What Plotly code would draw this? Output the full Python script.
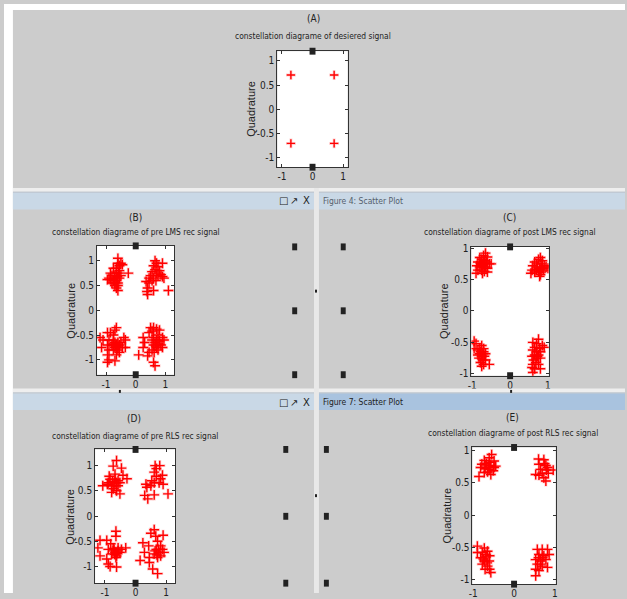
import plotly.graph_objects as go

W, H = 627, 599

# ---------------- data ----------------
a_x = [-0.707, 0.707, -0.707, 0.707]
a_y = [0.707, 0.707, -0.707, -0.707]

b_pts = [
    # top-left
    (-0.6, 1.05), (-0.6, 0.95), (-0.75, 0.85), (-0.65, 0.85), (-0.55, 0.9), (-0.5, 0.95), (-0.45, 0.92),
    (-0.55, 0.8), (-0.65, 0.75), (-0.7, 0.7), (-0.8, 0.7), (-0.9, 0.65), (-0.95, 0.62), (-0.85, 0.62),
    (-0.75, 0.6), (-0.65, 0.6), (-0.6, 0.55), (-0.7, 0.55), (-0.8, 0.55), (-0.7, 0.5), (-0.6, 0.5),
    (-0.65, 0.45), (-0.6, 0.4), (-0.55, 0.65), (-0.5, 0.7), (-0.25, 0.75), (-0.85, 0.75), (-0.72, 0.65),
    (-0.62, 0.68), (-0.58, 0.75),
    # top-right
    (0.65, 1.0), (0.7, 0.95), (0.6, 0.9), (0.75, 0.88), (0.9, 0.95), (0.65, 0.82), (0.55, 0.78),
    (0.8, 0.8), (0.7, 0.75), (0.85, 0.72), (0.9, 0.68), (0.95, 0.65), (0.5, 0.7), (0.45, 0.65),
    (0.6, 0.65), (0.55, 0.6), (0.35, 0.58), (0.45, 0.55), (0.4, 0.45), (0.38, 0.38), (0.4, 0.32),
    (0.6, 0.4), (1.1, 0.4), (0.75, 0.7), (0.68, 0.6),
    # bottom-left
    (-0.65, -0.35), (-0.7, -0.4), (-0.95, -0.45), (-0.85, -0.45), (-0.75, -0.5), (-1.2, -0.55),
    (-1.1, -0.6), (-0.9, -0.6), (-0.75, -0.6), (-0.7, -0.65), (-0.6, -0.65), (-0.5, -0.65),
    (-0.4, -0.55), (-0.35, -0.6), (-0.95, -0.7), (-0.8, -0.7), (-0.65, -0.7), (-0.55, -0.7),
    (-0.45, -0.75), (-1.15, -0.75), (-0.35, -0.75), (-0.75, -0.8), (-0.6, -0.8), (-0.7, -0.75),
    (-0.9, -0.8), (-0.55, -0.85), (-0.65, -0.9), (-0.95, -0.9), (-0.9, -1.0), (-0.95, -1.05),
    (-0.7, -1.02), (-0.68, -0.72), (-0.6, -0.75), (-0.75, -0.68),
    # bottom-right
    (0.5, -0.35), (0.6, -0.35), (0.7, -0.38), (0.55, -0.42), (0.8, -0.4), (0.45, -0.45), (0.75, -0.5),
    (0.25, -0.55), (0.6, -0.55), (0.9, -0.55), (0.55, -0.6), (0.7, -0.6), (0.8, -0.62), (0.95, -0.6),
    (0.3, -0.65), (0.65, -0.65), (0.75, -0.68), (0.85, -0.7), (0.6, -0.7), (0.7, -0.75), (0.9, -0.75),
    (0.25, -0.75), (0.55, -0.8), (0.75, -0.8), (0.45, -0.85), (0.62, -0.85), (0.1, -0.9), (0.4, -0.92),
    (0.6, -1.05), (0.65, -1.12), (0.68, -0.72),
]

c_pts = [
    (-0.65, 0.92), (-0.7, 0.88), (-0.6, 0.86), (-0.8, 0.85), (-0.75, 0.82), (-0.68, 0.8), (-0.85, 0.78),
    (-0.78, 0.76), (-0.7, 0.76), (-0.62, 0.78), (-0.55, 0.75), (-0.5, 0.75), (-0.88, 0.72), (-0.8, 0.7),
    (-0.72, 0.72), (-0.65, 0.7), (-0.6, 0.68), (-0.85, 0.65), (-0.75, 0.65), (-0.68, 0.63), (-0.9, 0.6),
    (-0.6, 0.62), (-0.73, 0.6), (-0.77, 0.74), (-0.66, 0.76),
    (0.8, 0.85), (0.75, 0.82), (0.65, 0.78), (0.85, 0.8), (0.7, 0.75), (0.82, 0.75), (0.9, 0.72),
    (0.95, 0.7), (0.6, 0.72), (0.72, 0.7), (0.78, 0.68), (0.85, 0.68), (1.0, 0.68), (0.58, 0.65),
    (0.75, 0.63), (0.82, 0.62), (0.65, 0.62), (0.55, 0.6), (0.8, 0.58), (0.78, 0.55), (0.7, 0.66),
    (0.88, 0.65),
    (-0.95, -0.48), (-0.9, -0.52), (-0.75, -0.55), (-0.95, -0.6), (-0.8, -0.6), (-0.7, -0.6),
    (-0.85, -0.62), (-0.78, -0.65), (-0.7, -0.65), (-0.65, -0.68), (-0.85, -0.7), (-0.75, -0.72),
    (-0.68, -0.72), (-0.82, -0.75), (-0.72, -0.78), (-0.65, -0.78), (-0.78, -0.82), (-0.7, -0.85),
    (-0.75, -0.88), (-0.55, -0.85), (-0.8, -0.68), (-0.72, -0.68),
    (0.75, -0.45), (0.6, -0.5), (0.7, -0.52), (0.85, -0.55), (0.65, -0.58), (0.78, -0.6), (0.9, -0.58),
    (0.6, -0.62), (0.7, -0.65), (0.8, -0.65), (0.65, -0.7), (0.75, -0.7), (0.58, -0.72), (0.7, -0.75),
    (0.8, -0.75), (0.62, -0.78), (0.68, -0.82), (0.6, -0.85), (0.75, -0.85), (0.58, -0.9), (0.65, -0.92),
    (0.6, -0.98), (0.8, -0.92), (0.72, -0.72),
]

d_pts = [
    (-0.62, 1.1), (-0.73, 0.99), (-0.46, 0.95), (-0.86, 0.79), (-0.67, 0.83), (-0.41, 0.81), (-0.28, 0.74),
    (-1.07, 0.6), (-0.89, 0.66), (-0.78, 0.6), (-0.62, 0.66), (-0.57, 0.6), (-0.73, 0.54), (-0.83, 0.73),
    (-0.67, 0.73), (-0.78, 0.47), (-0.62, 0.5), (-0.51, 0.44), (-0.67, 0.66), (-0.57, 0.7), (-0.92, 0.63),
    (-0.51, 0.66), (-0.7, 0.6), (-0.75, 0.68),
    (0.64, 1.0), (0.79, 1.0), (0.68, 0.94), (0.61, 0.87), (0.88, 0.81), (0.82, 0.74), (0.53, 0.7),
    (0.61, 0.66), (0.9, 0.63), (0.34, 0.63), (0.37, 0.57), (0.5, 0.6), (0.68, 0.79), (0.3, 0.41),
    (0.4, 0.34), (0.61, 0.42), (1.06, 0.44), (0.77, 0.66),
    (-0.64, -0.3), (-0.64, -0.4), (-1.16, -0.48), (-0.94, -0.48), (-0.81, -0.55), (-1.23, -0.63),
    (-0.89, -0.66), (-0.73, -0.64), (-0.57, -0.63), (-0.32, -0.63), (-0.46, -0.66), (-0.67, -0.72),
    (-0.51, -0.72), (-0.78, -0.75), (-0.62, -0.79), (-1.16, -0.79), (-0.94, -0.85), (-0.89, -0.95),
    (-0.83, -1.0), (-0.62, -1.01), (-0.73, -0.69), (-0.57, -0.69), (-0.64, -0.82), (-0.68, -0.76),
    (-0.6, -0.74), (-0.7, -0.66),
    (0.61, -0.27), (0.5, -0.34), (0.66, -0.4), (0.9, -0.38), (0.24, -0.53), (0.43, -0.59), (0.72, -0.5),
    (0.82, -0.59), (0.68, -0.66), (0.88, -0.66), (0.29, -0.72), (0.77, -0.72), (0.61, -0.75), (0.93, -0.72),
    (0.45, -0.82), (0.72, -0.82), (0.15, -0.88), (0.45, -0.92), (0.56, -1.05), (0.72, -1.14), (0.82, -0.79),
    (0.64, -0.69), (0.75, -0.66), (0.7, -0.77),
]

e_pts = [
    (-0.55, 0.94), (-0.61, 0.89), (-0.73, 0.85), (-0.49, 0.84), (-0.79, 0.79), (-0.68, 0.8), (-0.57, 0.77),
    (-0.45, 0.76), (-0.82, 0.74), (-0.71, 0.72), (-0.61, 0.71), (-0.51, 0.69), (-0.73, 0.66), (-0.57, 0.63),
    (-0.65, 0.67), (-0.86, 0.6), (-0.49, 0.74), (-0.63, 0.76), (-0.7, 0.78), (-0.6, 0.82),
    (0.6, 0.87), (0.73, 0.86), (0.61, 0.79), (0.78, 0.77), (0.65, 0.71), (0.79, 0.7), (0.96, 0.7),
    (0.53, 0.63), (0.69, 0.65), (0.84, 0.65), (0.73, 0.58), (0.78, 0.53), (0.61, 0.62), (0.82, 0.74),
    (0.75, 0.8),
    (-0.9, -0.48), (-0.9, -0.58), (-0.73, -0.51), (-0.78, -0.58), (-0.65, -0.56), (-0.82, -0.66),
    (-0.69, -0.65), (-0.6, -0.63), (-0.73, -0.71), (-0.61, -0.71), (-0.78, -0.76), (-0.65, -0.79),
    (-0.71, -0.84), (-0.6, -0.84), (-0.57, -0.89), (-0.69, -0.61), (-0.75, -0.68), (-0.66, -0.74),
    (0.57, -0.53), (0.69, -0.53), (0.82, -0.53), (0.86, -0.61), (0.61, -0.61), (0.73, -0.63), (0.53, -0.69),
    (0.65, -0.71), (0.78, -0.69), (0.57, -0.76), (0.69, -0.79), (0.82, -0.81), (0.53, -0.84), (0.61, -0.86),
    (0.53, -0.94), (0.65, -0.76), (0.7, -0.66), (0.6, -0.66),
]

tick_y = [-1, -0.5, 0, 0.5, 1]
tick_y_text = ["-1", "-0.5", "0", "0.5", "1"]
tick_x = [-1, 0, 1]
tick_x_text = ["-1", "0", "1"]

letters = ["(A)", "(B)", "(C)", "(D)", "(E)"]
titles = [
    "constellation diagrame of desiered signal",
    "constellation diagrame of pre LMS rec signal",
    "constellation diagrame of post LMS rec signal",
    "constellation diagrame of pre RLS rec signal",
    "constellation diagrame of post RLS rec signal",
]
ylabel = "Quadrature"
window_titles = ["Figure 4: Scatter Plot", "Figure 7: Scatter Plot"]

# ---------------- layout helpers (pixel -> paper) ----------------
def fx(p):
    return p / W

def fy(p):
    return 1 - p / H

NARROW = "Liberation Sans Narrow, Arial Narrow, DejaVu Sans Condensed, sans-serif"
SANS = "Liberation Sans, Arial, sans-serif"
GRAY = "#cccccc"

panels = [
    dict(pts=list(zip(a_x, a_y)), box=(276, 347, 48, 166), xr=[-1.15, 1.15], yr=[-1.2, 1.2],
         lt=(312, 15), tt=(312, 33), ql=250, msize=6),
    dict(pts=b_pts, box=(94, 172, 246, 377), xr=[-1.3, 1.3], yr=[-1.3, 1.3],
         lt=(133, 217), tt=(133, 232), ql=68, msize=7),
    dict(pts=c_pts, box=(472, 550, 247, 378), xr=[-1.02, 1.02], yr=[-1.03, 1.02],
         lt=(510, 217), tt=(511, 232), ql=445, msize=7),
    dict(pts=d_pts, box=(92, 173, 453, 589), xr=[-1.32, 1.3], yr=[-1.33, 1.32],
         lt=(131, 422), tt=(132, 439), ql=67, msize=7),
    dict(pts=e_pts, box=(473, 557, 451, 590), xr=[-1.02, 1.02], yr=[-1.07, 1.05],
         lt=(513, 421), tt=(514, 436), ql=447, msize=7),
]

fig = go.Figure()
layout = {}
annotations = []
shapes = []

for i, p in enumerate(panels, start=1):
    sfx = "" if i == 1 else str(i)
    xs = [q[0] for q in p["pts"]]
    ys = [q[1] for q in p["pts"]]
    # soft halo (jpeg blur look)
    fig.add_trace(go.Scatter(
        x=xs, y=ys, mode="markers", xaxis="x" + sfx, yaxis="y" + sfx,
        marker=dict(symbol="cross-thin", size=p["msize"] + 1,
                    line=dict(color="rgba(255,0,0,0.18)", width=3)),
        showlegend=False, hoverinfo="skip"))
    fig.add_trace(go.Scatter(
        x=xs, y=ys, mode="markers", xaxis="x" + sfx, yaxis="y" + sfx,
        marker=dict(symbol="cross-thin", size=p["msize"],
                    line=dict(color="#ff0000", width=1.4)),
        showlegend=False, hoverinfo="skip"))
    l, r, t, b = p["box"]
    axcommon = dict(showgrid=False, zeroline=False, showline=True, linecolor="#333333", linewidth=1,
                    mirror="ticks", ticks="inside", ticklen=3, tickcolor="#333333",
                    tickfont=dict(family=NARROW, size=10, color="#222222"), fixedrange=True)
    layout["xaxis" + sfx] = dict(domain=[fx(l), fx(r)], range=p["xr"], anchor="y" + sfx,
                                 tickvals=tick_x, ticktext=tick_x_text, **axcommon)
    layout["yaxis" + sfx] = dict(domain=[fy(b), fy(t)], range=p["yr"], anchor="x" + sfx,
                                 tickvals=tick_y, ticktext=tick_y_text, **axcommon)
    annotations.append(dict(x=fx(p["lt"][0]), y=fy(p["lt"][1]), xref="paper", yref="paper",
                            text=letters[i - 1], showarrow=False, xanchor="center", yanchor="middle",
                            font=dict(family=NARROW, size=10, color="#222222")))
    annotations.append(dict(x=fx(p["tt"][0]), y=fy(p["tt"][1]), xref="paper", yref="paper",
                            text=titles[i - 1], showarrow=False, xanchor="center", yanchor="middle",
                            font=dict(family=NARROW, size=8.4, color="#222222")))
    annotations.append(dict(x=fx(p["ql"]), y=fy((t + b) / 2), xref="paper", yref="paper",
                            text=ylabel, showarrow=False, textangle=-90, xanchor="center",
                            yanchor="middle", font=dict(family=SANS, size=11, color="#222222")))
    # axes selection handles (top/bottom centre)
    cx = l + (r - l) * (0 - p["xr"][0]) / (p["xr"][1] - p["xr"][0])
    for hy in (t, b):
        shapes.append(dict(type="rect", xref="paper", yref="paper", layer="above",
                           x0=fx(cx - 3), x1=fx(cx + 3), y0=fy(hy + 3.5), y1=fy(hy - 3.5),
                           fillcolor="#222222", line=dict(width=0)))

# ---------------- window chrome ----------------
def rect(x0, y0, x1, y1, color, layer="above"):
    shapes.append(dict(type="rect", xref="paper", yref="paper", layer=layer,
                       x0=fx(x0), x1=fx(x1), y0=fy(y1), y1=fy(y0),
                       fillcolor=color, line=dict(width=0)))

rect(0, 0, W, 6, "#ffffff")                 # top strip
rect(0, 0, 9, H, "#ffffff")                 # left strip
# row 1 / row 2 separator + title bars
rect(9, 187, W, 191, "#eeeeee")
rect(9, 191, W, 192, "#b7c3cf")
rect(9, 192, 313, 209, "#c9d8e6")
rect(318, 192, W, 209, "#c9d8e6")
# row 2 / row 3 separator + title bars
rect(9, 391, W, 395, "#eeeeee")
rect(9, 395, W, 396, "#b7c3cf")
rect(9, 396, 313, 413, "#c9d8e6")
rect(318, 396, W, 413, "#a9c3df")
# vertical separator
rect(313, 187, 318, H, "#e8e8e8")

# side handles
for hx in (291, 340):
    for hy in (247, 312, 377):
        rect(hx, hy - 3.5, hx + 5, hy + 3.5, "#222222")
for hx in (282, 323):
    for hy in (453, 521, 589):
        rect(hx, hy - 3.5, hx + 5, hy + 3.5, "#222222")
# tiny marks
for (mx, my) in ((315, 292), (315, 500), (117, 394), (512, 394)):
    rect(mx - 1, my - 1.5, mx + 1, my + 1.5, "#222222")

# window buttons
for by in (200, 405):
    for bx, txt in ((282, "□"), (293, "↗"), (305, "X")):
        annotations.append(dict(x=fx(bx), y=fy(by), xref="paper", yref="paper", text=txt,
                                showarrow=False, xanchor="center", yanchor="middle",
                                font=dict(family="DejaVu Sans, sans-serif", size=10, color="#222222")))
annotations.append(dict(x=fx(320), y=fy(200), xref="paper", yref="paper", text=window_titles[0],
                        showarrow=False, xanchor="left", yanchor="middle",
                        font=dict(family=NARROW, size=8.5, color="#55606c")))
annotations.append(dict(x=fx(320), y=fy(405), xref="paper", yref="paper", text=window_titles[1],
                        showarrow=False, xanchor="left", yanchor="middle",
                        font=dict(family=NARROW, size=8.5, color="#222222")))

fig.update_layout(
    width=W, height=H, margin=dict(l=0, r=0, t=0, b=0),
    paper_bgcolor=GRAY, plot_bgcolor="#ffffff",
    annotations=annotations, shapes=shapes, showlegend=False,
    **layout,
)

fig.write_html(
    "out.html", config={"displayModeBar": False},
    post_script=("var de=document.documentElement;"
                 "de.style.margin='0';de.style.padding='0';de.style.overflow='hidden';"
                 "de.style.background='#cccccc';de.style.scrollbarWidth='none';"
                 "document.body.style.margin='0';document.body.style.padding='0';"
                 "document.body.style.overflow='hidden';"
                 "document.body.style.background='#cccccc';"))
